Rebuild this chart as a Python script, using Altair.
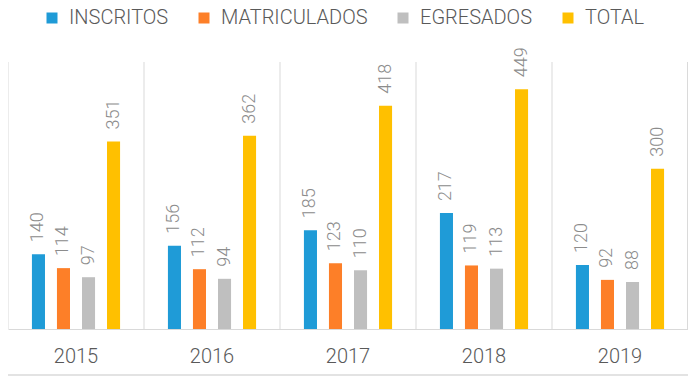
import altair as alt
import pandas as pd

years = ["2015", "2016", "2017", "2018", "2019"]
series = ["INSCRITOS", "MATRICULADOS", "EGRESADOS", "TOTAL"]
inscritos = [140, 156, 185, 217, 120]
matriculados = [114, 112, 123, 119, 92]
egresados = [97, 94, 110, 113, 88]
total = [351, 362, 418, 449, 300]
colors = ["#1f9bd7", "#fd7f28", "#bfbfbf", "#ffc000"]

rows = []
for name, vals in zip(series, [inscritos, matriculados, egresados, total]):
    for yr, v in zip(years, vals):
        rows.append({"year": yr, "serie": name, "value": v})
df = pd.DataFrame(rows)
df_years = pd.DataFrame({"year": years})

W, H = 680, 267
FONT = "Roboto"
band_scale = alt.Scale(domain=years, paddingInner=0, paddingOuter=0)

x_enc = alt.X(
    "year:N", sort=years, scale=band_scale,
    axis=alt.Axis(title=None, labelAngle=0, labelFont=FONT, labelFontSize=20,
                  labelFontWeight=300, labelColor="#595959", labelPadding=17,
                  ticks=False, domainColor="#d9d9d9", domainWidth=1, grid=False),
)
xo_enc = alt.XOffset("serie:N", sort=series,
                     scale=alt.Scale(paddingInner=0.478, paddingOuter=0.956))
y_enc = alt.Y("value:Q", scale=alt.Scale(domain=[0, 500]), axis=None)

bars = alt.Chart(df).mark_bar().encode(
    x=x_enc,
    xOffset=xo_enc,
    y=y_enc,
    color=alt.Color(
        "serie:N", sort=series,
        scale=alt.Scale(domain=series, range=colors),
        legend=alt.Legend(title=None, orient="none", legendX=34, legendY=-54,
                          direction="horizontal", symbolType="square",
                          symbolSize=121, symbolStrokeWidth=0,
                          labelFont=FONT, labelFontSize=20, labelColor="#595959",
                          labelFontWeight=300, columnPadding=25, labelOffset=7,
                          labelLimit=400, padding=0),
    ),
)

labels = alt.Chart(df).mark_text(
    angle=270, align="left", baseline="middle", dx=12,
    font=FONT, fontSize=18, fontWeight=300, color="#8c8c8c"
).encode(
    x=x_enc,
    xOffset=xo_enc,
    y=y_enc,
    text=alt.Text("value:Q"),
)

data_layer = alt.layer(bars, labels)

grid = alt.Chart(df_years).mark_rule(color="#d9d9d9", strokeWidth=1).encode(
    x=alt.X("year:N", sort=years, scale=band_scale, bandPosition=0, axis=None)
)
grid_right = alt.Chart(df_years).mark_rule(color="#d9d9d9", strokeWidth=1).encode(
    x=alt.value(W)
)
bottom_line = alt.Chart(df_years).mark_rule(color="#e3e3e3", strokeWidth=2).encode(
    x=alt.value(0), x2=alt.value(W), y=alt.value(H + 46)
)
deco_layer = alt.layer(grid, grid_right, bottom_line)

chart = alt.layer(data_layer, deco_layer).resolve_scale(x="independent").properties(
    width=W, height=H,
    autosize=alt.AutoSizeParams(type="none"),
    padding={"left": 0, "right": 0, "top": 54, "bottom": 48},
).configure_view(stroke=None)

chart.save("out.html", embed_options={"renderer": "svg", "actions": False})
